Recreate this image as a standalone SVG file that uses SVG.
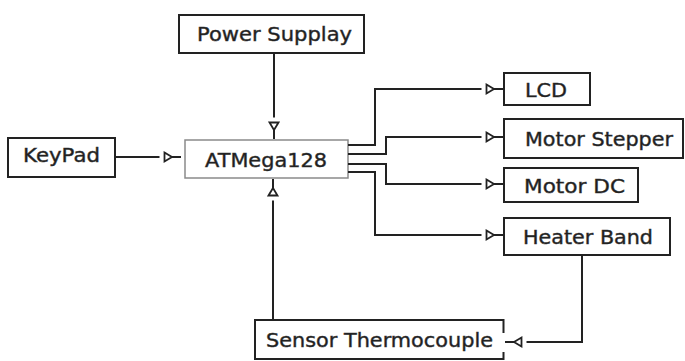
<svg xmlns="http://www.w3.org/2000/svg" width="685" height="361" viewBox="0 0 685 361">
<style>
.box{fill:#fff;stroke:#222;stroke-width:2}
.mcu{fill:#fff;stroke:#8a8a8a;stroke-width:1.5}
.lbl{font-family:"DejaVu Sans",Verdana,sans-serif;font-size:20px;fill:#1e1e1e;stroke:#333;stroke-width:0.45}
.wire{fill:none;stroke:#222;stroke-width:2;marker-end:url(#arr)}
</style>
<defs>
<marker id="arr" markerUnits="userSpaceOnUse" orient="auto" refX="0" refY="0" markerWidth="30" markerHeight="14" overflow="visible">
<rect x="-21.5" y="-2" width="5" height="4" fill="#fff"/>
<path d="M-16.5,-4.5 L-9,0 L-16.5,4.5 Z" fill="#fff" stroke="#222" stroke-width="1.8" stroke-linejoin="miter"/>
</marker>
</defs>
<g id="node-power"><rect class="box" x="179" y="15" width="185" height="38"/><text class="lbl" x="197" y="41" textLength="155" lengthAdjust="spacingAndGlyphs">Power Supplay</text></g>
<g id="node-keypad"><rect class="box" x="8" y="138" width="107" height="39"/><text class="lbl" x="23" y="162" textLength="77" lengthAdjust="spacingAndGlyphs">KeyPad</text></g>
<g id="node-mcu"><rect class="mcu" x="185" y="140" width="163" height="38"/><text class="lbl" x="205" y="167" textLength="122" lengthAdjust="spacingAndGlyphs">ATMega128</text></g>
<g id="node-lcd"><rect class="box" x="504" y="73" width="86" height="32"/><text class="lbl" x="525" y="97" textLength="42" lengthAdjust="spacingAndGlyphs">LCD</text></g>
<g id="node-stepper"><rect class="box" x="504" y="119" width="179" height="39"/><text class="lbl" x="525" y="146" textLength="148" lengthAdjust="spacingAndGlyphs">Motor Stepper</text></g>
<g id="node-dc"><rect class="box" x="504" y="168" width="134" height="34"/><text class="lbl" x="524" y="192.5" textLength="101" lengthAdjust="spacingAndGlyphs">Motor DC</text></g>
<g id="node-heater"><rect class="box" x="504" y="218" width="166" height="37"/><text class="lbl" x="523" y="243.5" textLength="130" lengthAdjust="spacingAndGlyphs">Heater Band</text></g>
<g id="node-sensor"><path class="box" d="M503.5,333 V320 H255 V359 H503.5 V352"/><text class="lbl" x="266" y="347" textLength="227" lengthAdjust="spacingAndGlyphs">Sensor Thermocouple</text></g>
<g id="connectors">
<path class="wire" d="M115,157 H181"/>
<path class="wire" d="M274,53 V139"/>
<path class="wire" d="M273,320 V179"/>
<path class="wire" d="M348,145 H375 V89 H503"/>
<path class="wire" d="M348,154 H386 V137 H503"/>
<path class="wire" d="M348,164 H386 V184 H503"/>
<path class="wire" d="M348,172 H375 V235 H503"/>
<path class="wire" d="M582,255 V342 H505"/>
</g>
</svg>
